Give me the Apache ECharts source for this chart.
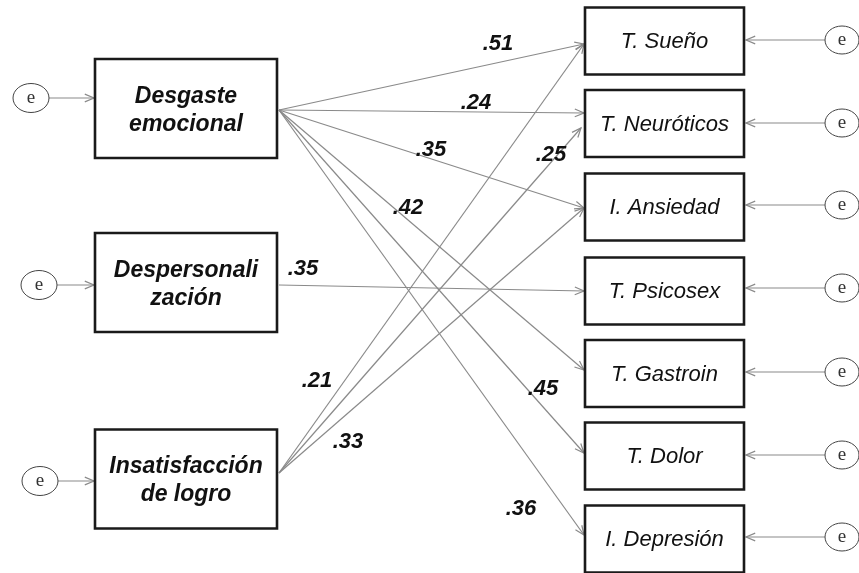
<!DOCTYPE html>
<html>
<head>
<meta charset="utf-8">
<script src="https://cdn.jsdelivr.net/npm/echarts@6/dist/echarts.min.js"></script>
<style>
html,body{margin:0;padding:0;background:#fff;}
#c{width:859px;height:573px;}
</style>
</head>
<body>
<div id="c"></div>
<script>
// ---------- DATA ----------
const predictorNames = ['Desgaste\nemocional', 'Despersonali\nzación', 'Insatisfacción\nde logro'];
const outcomeNames = ['T. Sueño', 'T. Neuróticos', 'I. Ansiedad', 'T. Psicosex', 'T. Gastroin', 'T. Dolor', 'I. Depresión'];
// path: predictor index -> outcome index, standardized coefficient
const pathPredictor = [0, 0, 0, 0, 0, 0, 1, 2, 2, 2];
const pathOutcome   = [0, 1, 2, 4, 5, 6, 3, 0, 1, 2];
const pathCoef      = [0.51, 0.24, 0.35, 0.42, 0.45, 0.36, 0.35, 0.21, 0.25, 0.33];
const errorLabel = 'e';

// ---------- LAYOUT (diagram units = axis units) ----------
const predBox = {cx: 186, w: 182, h: 99, cy: [108.5, 282.5, 479]};
const outBox = {cx: 664.5, w: 159, h: 67, cy: [41, 123.5, 207, 291, 373.5, 456, 539]};
const predAnchorY = [110, 285, 473];           // where paths leave predictor boxes
const pathEndDy = [3, -10.5, 1, -3.5, -3, -4, 0, 3, 4.5, 1]; // offset from outcome box centre
const pathEndDx = [0, 0, 0, 0, 0, 0, 0, 0, -3, 0];
const labelPos = [[498, 44], [476, 103], [431, 150], [408, 208], [543, 389], [521, 509], [303, 269], [317, 381], [551, 155], [348, 442]];
const predErr = {cx: [31, 39, 40], cy: [98, 285, 481], rx: 18, ry: 14.5};
const outErr = {cx: 842, cy: [40, 123, 205, 288, 372, 455, 537], rx: 17, ry: 14};

const LINE = '#8a8a8a';
const BOX = '#1a1a1a';

function fmt(v) { return v.toFixed(2).replace(/^0/, ''); }
function arrowHead(tip, from, len, half) {
  const a = Math.atan2(tip[1] - from[1], tip[0] - from[0]);
  return [
    [tip[0] - len * Math.cos(a - half), tip[1] - len * Math.sin(a - half)],
    [tip[0], tip[1]],
    [tip[0] - len * Math.cos(a + half), tip[1] - len * Math.sin(a + half)]
  ];
}

// build series data
const pathData = pathCoef.map((c, i) => {
  const p = pathPredictor[i], o = pathOutcome[i];
  return [predBox.cx + predBox.w / 2 + 2, predAnchorY[p],
          outBox.cx - outBox.w / 2 - 1 + pathEndDx[i], outBox.cy[o] + pathEndDy[i], i];
});
const labelData = pathCoef.map((c, i) => [labelPos[i][0], labelPos[i][1], i]);
const boxData = predictorNames.map((n, i) => [predBox.cx, predBox.cy[i], predBox.w, predBox.h, 0, i])
  .concat(outcomeNames.map((n, i) => [outBox.cx, outBox.cy[i], outBox.w, outBox.h, 1, i]));
const errData = predictorNames.map((n, i) => [predErr.cx[i], predErr.cy[i], predBox.cx - predBox.w / 2 - 1, predErr.cy[i], 0])
  .concat(outcomeNames.map((n, i) => [outErr.cx, outErr.cy[i], outBox.cx + outBox.w / 2 + 2, outErr.cy[i], 1]));

const chart = echarts.init(document.getElementById('c'));
chart.setOption({
  animation: false,
  backgroundColor: '#fff',
  grid: {left: 0, right: 0, top: 0, bottom: 0},
  xAxis: {type: 'value', min: 0, max: 859, show: false},
  yAxis: {type: 'value', min: 0, max: 573, inverse: true, show: false},
  series: [
    {
      type: 'custom', z: 2, data: pathData,
      encode: {x: [0, 2], y: [1, 3]},
      renderItem: function (params, api) {
        const a = api.coord([api.value(0), api.value(1)]);
        const b = api.coord([api.value(2), api.value(3)]);
        return {type: 'group', children: [
          {type: 'line', shape: {x1: a[0], y1: a[1], x2: b[0], y2: b[1]}, style: {stroke: LINE, lineWidth: 1.2}},
          {type: 'polyline', shape: {points: arrowHead(b, a, 10, 0.4)}, style: {stroke: LINE, lineWidth: 1.2, fill: null}}
        ]};
      }
    },
    {
      type: 'custom', z: 2, data: errData,
      encode: {x: [0, 2], y: [1, 3]},
      renderItem: function (params, api) {
        const side = api.value(4);
        const c = api.coord([api.value(0), api.value(1)]);
        const t = api.coord([api.value(2), api.value(3)]);
        const e = side === 0 ? predErr : outErr;
        const s = api.size([e.rx, e.ry]);
        const start = side === 0 ? [c[0] + s[0], c[1]] : [c[0] - s[0], c[1]];
        return {type: 'group', children: [
          {type: 'line', shape: {x1: start[0], y1: start[1], x2: t[0], y2: t[1]}, style: {stroke: LINE, lineWidth: 1.2}},
          {type: 'polyline', shape: {points: arrowHead(t, start, 10, 0.4)}, style: {stroke: LINE, lineWidth: 1.2, fill: null}},
          {type: 'ellipse', shape: {cx: c[0], cy: c[1], rx: s[0], ry: s[1]}, style: {stroke: '#444', lineWidth: 1, fill: '#fff'}},
          {type: 'text', x: c[0], y: c[1], style: {text: errorLabel, font: '19px "Liberation Serif"', fill: '#333', align: 'center', verticalAlign: 'middle'}}
        ]};
      }
    },
    {
      type: 'custom', z: 3, data: boxData,
      encode: {x: 0, y: 1},
      renderItem: function (params, api) {
        const c = api.coord([api.value(0), api.value(1)]);
        const s = api.size([api.value(2), api.value(3)]);
        const kind = api.value(4), idx = api.value(5);
        const name = kind === 0 ? predictorNames[idx] : outcomeNames[idx];
        const font = kind === 0 ? 'italic bold 23px "Liberation Sans"' : 'italic 22px "Liberation Sans"';
        return {type: 'group', children: [
          {type: 'rect', shape: {x: c[0] - s[0] / 2, y: c[1] - s[1] / 2, width: s[0], height: s[1]}, style: {fill: '#fff', stroke: BOX, lineWidth: 2.6}},
          {type: 'text', x: c[0], y: c[1] + (kind === 0 ? 2 : 1), style: {text: name, font: font, lineHeight: 28, fill: '#111', align: 'center', verticalAlign: 'middle'}}
        ]};
      }
    },
    {
      type: 'custom', z: 4, data: labelData,
      encode: {x: 0, y: 1},
      renderItem: function (params, api) {
        const p = api.coord([api.value(0), api.value(1)]);
        return {type: 'text', x: p[0], y: p[1], style: {text: fmt(pathCoef[api.value(2)]), font: 'italic bold 22px "Liberation Sans"', fill: '#111', align: 'center', verticalAlign: 'middle'}};
      }
    }
  ]
});
</script>
</body>
</html>
